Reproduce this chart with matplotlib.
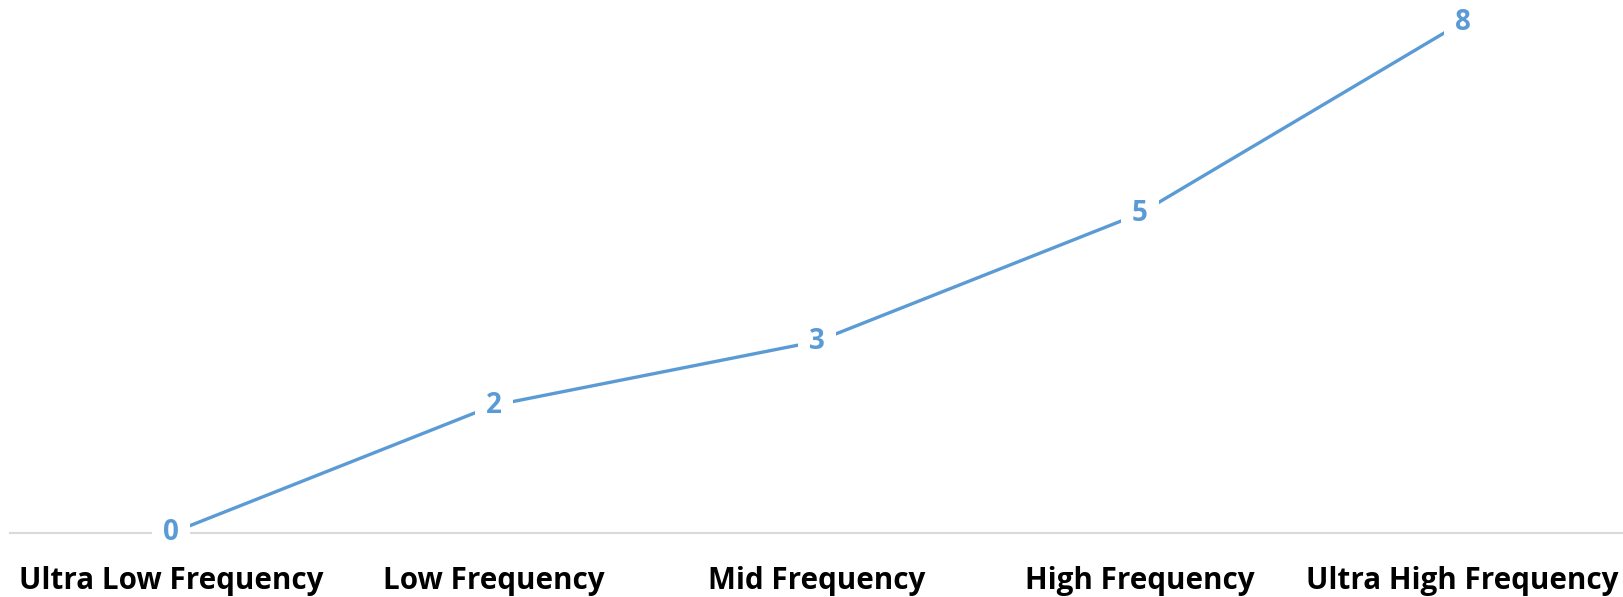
import matplotlib

matplotlib.use("Agg")
import matplotlib.pyplot as plt

categories = ["Ultra Low Frequency", "Low Frequency", "Mid Frequency",
              "High Frequency", "Ultra High Frequency"]
values = [0, 2, 3, 5, 8]

LINE_COLOR = "#5B9BD5"
GRID_COLOR = "#D9D9D9"

plt.rcParams["font.family"] = ["Open Sans", "DejaVu Sans"]

fig = plt.figure(figsize=(16.24, 5.97), dpi=100)
ax = fig.add_axes([10 / 1624, 64 / 597, 1614 / 1624, 511 / 597])

x = range(len(categories))
ax.plot(x, values, color=LINE_COLOR, linewidth=2.4, solid_capstyle="butt", zorder=3)

# value labels sit on a white box so the line and baseline break around them
for xi, v in zip(x, values):
    ax.text(xi, v, str(v), ha="center", va="center", fontsize=20,
            fontweight="bold", color=LINE_COLOR, zorder=5,
            bbox=dict(boxstyle="square,pad=0.4", fc="white", ec="none"))

ax.set_xlim(-0.5, len(categories) - 0.5)
ax.set_ylim(0, 8)
ax.axhline(0, color=GRID_COLOR, linewidth=1.5, zorder=1, clip_on=False)

ax.set_xticks(list(x))
ax.set_xticklabels(categories, fontsize=21.3, fontweight="bold", color="black")
ax.tick_params(axis="x", length=0, pad=24)
ax.set_yticks([])
for s in ax.spines.values():
    s.set_visible(False)
ax.patch.set_alpha(0)

fig.savefig("out.png", dpi=100, facecolor="white")
